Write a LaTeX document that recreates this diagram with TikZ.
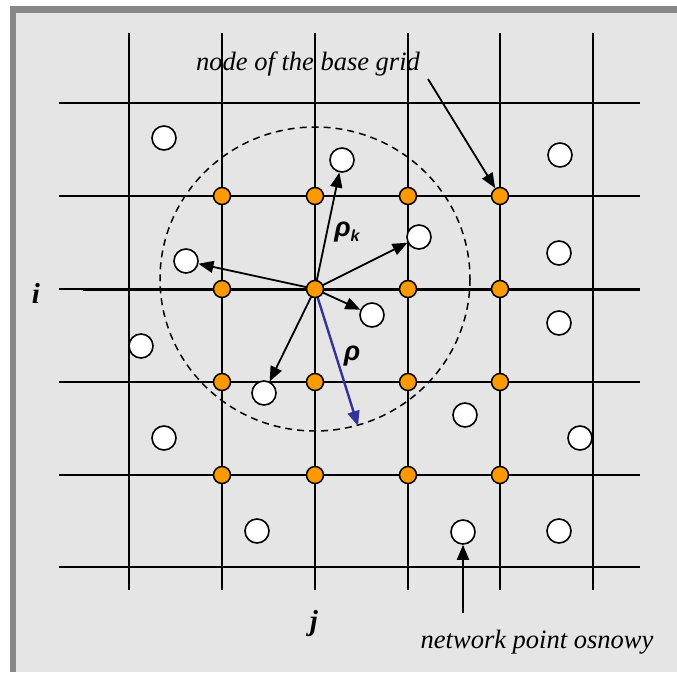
\documentclass[tikz,border=0pt]{standalone}
\usepackage{fontspec}
\setmainfont{Liberation Serif}
\newfontfamily\rhofont{Liberation Sans}
\usetikzlibrary{arrows.meta}
\pgfdeclarelayer{bg}
\pgfdeclarelayer{mid}
\pgfsetlayers{bg,mid,main}
\definecolor{frame}{RGB}{136,136,136}
\definecolor{paper}{RGB}{229,229,229}
\definecolor{gridnode}{RGB}{255,153,0}
\definecolor{rhoblue}{RGB}{51,51,153}
\tikzset{
  gline/.style={line width=2.4pt},
  onode/.style={circle,draw=black,line width=1.5pt,fill=gridnode,minimum size=17pt,inner sep=0pt},
  wnode/.style={circle,draw=black,line width=1.6pt,fill=white,minimum size=24pt,inner sep=0pt},
  arr/.style={line width=1.8pt,-{Triangle[length=15pt,width=12pt]}},
  lbl/.style={font=\fontsize{26.5}{30}\selectfont\itshape,inner sep=0pt},
  idx/.style={font=\fontsize{29}{32}\selectfont\bfseries\itshape,inner sep=0pt},
  rho/.style={font=\fontsize{27}{30}\selectfont\rhofont\bfseries\itshape,inner sep=0pt}
}
\begin{document}
\begin{tikzpicture}[x=1pt,y=-1pt]
\useasboundingbox (0,0) rectangle (677,672);
\begin{pgfonlayer}{bg}
  \fill[white] (0,0) rectangle (677,672);
  \fill[frame] (10,6) rectangle (677,672);
  \fill[paper] (16,12.5) rectangle (677,672);
\end{pgfonlayer}
\begin{pgfonlayer}{mid}
  % vertical grid lines
  \foreach \x in {129,222,315,408,500,593}
    \draw[line width=2.2pt] (\x,33) -- (\x,590);
  % horizontal grid lines
  \foreach \y in {103,196,382,475,567}
    \draw[gline] (59,\y) -- (640,\y);
  \draw[line width=1.4pt] (59,289) -- (83,289);
  \draw[line width=3pt] (83,289) -- (640,289);
  % dashed circle
  \draw[dashed,line width=1.5pt,dash pattern=on 7pt off 5pt] (315,279) ellipse [x radius=155, y radius=152];
\end{pgfonlayer}
% orange base grid nodes
\foreach \y/\r in {196/1,289/2,382/3,475/4}
  \foreach \x/\c in {222/1,315/2,408/3,500/4}
    \node[onode] (o\r\c) at (\x,\y) {};
% white network points
\node[wnode] (p1) at (164,138) {};
\node[wnode] (p2) at (342,160) {};
\node[wnode] (p3) at (560,155) {};
\node[wnode] (p4) at (419,237) {};
\node[wnode] (p5) at (186,261) {};
\node[wnode] (p6) at (559,253) {};
\node[wnode] (p7) at (372,315) {};
\node[wnode] (p8) at (559,323) {};
\node[wnode] (p9) at (141,346) {};
\node[wnode] (p10) at (264,393) {};
\node[wnode] (p11) at (465,415) {};
\node[wnode] (p12) at (164,438) {};
\node[wnode] (p13) at (580,438) {};
\node[wnode] (p14) at (257,531) {};
\node[wnode] (p15) at (463,532) {};
\node[wnode] (p16) at (559,531) {};
\coordinate (rhoend) at (358,426);
\coordinate (topstart) at (428,79);
\coordinate (botstart) at (463,613);
\begin{pgfonlayer}{mid}
  \draw[arr] (o22.center) -- (p2);
  \draw[arr] (o22.center) -- (p4);
  \draw[arr] (o22.center) -- (p5);
  \draw[arr] (o22.center) -- (p7);
  \draw[arr] (o22.center) -- (p10);
  \draw[arr,rhoblue,line width=2.4pt] (o22.center) -- (rhoend);
\end{pgfonlayer}
\draw[arr] (topstart) -- (o14);
\draw[arr] (botstart) -- (p15);
% labels
\node[lbl,anchor=base] (tnode) at (308,70) {node of the base grid};
\node[lbl,anchor=base] (tpoint) at (537,648) {network point osnowy};
\node[idx,anchor=base] (li) at (36,303) {i};
\node[idx,anchor=base] (lj) at (314,630) {j};
\node[rho] (lrhok) at (347,232) {ρ\raisebox{-5pt}{\fontsize{16}{16}\selectfont k}};
\node[rho] (lrho) at (352,356) {ρ};
\end{tikzpicture}
\end{document}
